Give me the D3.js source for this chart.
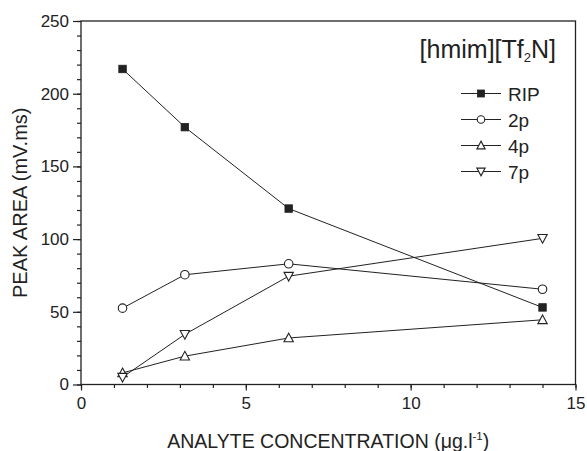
<!DOCTYPE html>
<html><head><meta charset="utf-8">
<script src="https://cdn.jsdelivr.net/npm/d3@7"></script>
<style>body{margin:0;background:#fff}svg{display:block;font-family:"Liberation Sans",Arial,sans-serif}</style>
</head><body><svg id="c" width="587" height="451"></svg>
<script>
const concentrations = [1.26, 3.15, 6.3, 14.0];
const ripValues = [217, 177, 121, 53];
const p2Values = [52.5, 75.5, 83, 65.5];
const p4Values = [8, 19.5, 32, 44.5];
const p7Values = [5, 34.5, 74.5, 100.5];
const seriesNames = ["RIP", "2p", "4p", "7p"];
const xTicks = [0, 5, 10, 15];
const yTicks = [0, 50, 100, 150, 200, 250];

const series = [
  {name: seriesNames[0], values: ripValues, sym: "square"},
  {name: seriesNames[1], values: p2Values, sym: "circle"},
  {name: seriesNames[2], values: p4Values, sym: "up"},
  {name: seriesNames[3], values: p7Values, sym: "down"}
];

const ink = "#222";
const svg = d3.select("#c");
const L = 81, R = 575.5, T = 21, B = 384.5;
const x = d3.scaleLinear().domain([0, 15]).range([L, R]);
const y = d3.scaleLinear().domain([0, 250]).range([B, T]);

// frame
svg.append("rect").attr("x", L).attr("y", T).attr("width", R - L).attr("height", B - T)
  .attr("fill", "none").attr("stroke", ink).attr("stroke-width", 1.3);

// y axis
const yAx = svg.append("g").attr("transform", `translate(${L},0)`);
yAx.call(d3.axisLeft(y).tickValues(d3.range(0, 251, 10)).tickSize(4).tickFormat(""));
yAx.call(g => g.select(".domain").remove());
const yAx2 = svg.append("g").attr("transform", `translate(${L},0)`);
yAx2.call(d3.axisLeft(y).tickValues(yTicks).tickSize(8).tickPadding(4).tickFormat(d3.format("d")));
yAx2.select(".domain").remove();
[yAx, yAx2].forEach(g => { g.selectAll("line").attr("stroke", ink).attr("stroke-width", 1.2); });
yAx2.selectAll("text").attr("font-size", 17).attr("fill", ink).attr("font-family", "Liberation Sans, Arial, sans-serif");

// x axis
const xAx = svg.append("g").attr("transform", `translate(0,${B})`);
xAx.call(d3.axisBottom(x).tickValues(d3.range(0, 16, 1)).tickSize(3.5).tickFormat(""));
xAx.select(".domain").remove();
const xAx2 = svg.append("g").attr("transform", `translate(0,${B})`);
xAx2.call(d3.axisBottom(x).tickValues(xTicks).tickSize(6).tickPadding(6).tickFormat(d3.format("d")));
xAx2.select(".domain").remove();
[xAx, xAx2].forEach(g => { g.selectAll("line").attr("stroke", ink).attr("stroke-width", 1.2); });
xAx2.selectAll("text").attr("font-size", 17).attr("fill", ink).attr("font-family", "Liberation Sans, Arial, sans-serif");

// axis titles
const xt = svg.append("text").attr("x", (L + R) / 2).attr("y", 448).attr("text-anchor", "middle")
  .attr("font-size", 19.5).attr("fill", ink);
xt.append("tspan").text("ANALYTE CONCENTRATION (μg.l");
xt.append("tspan").attr("font-size", 11.5).attr("dy", -8).text("-1");
xt.append("tspan").attr("dy", 8).text(")");

svg.append("text").attr("transform", `translate(27,${(T + B) / 2}) rotate(-90)`)
  .attr("text-anchor", "middle").attr("font-size", 20).attr("fill", ink).text("PEAK AREA (mV.ms)");

// symbols
function drawSym(g, type, cx, cy, s) {
  if (type === "square") {
    g.append("rect").attr("x", cx - s / 2).attr("y", cy - s / 2).attr("width", s).attr("height", s)
      .attr("fill", ink).attr("stroke", ink).attr("stroke-width", 0.8);
  } else if (type === "circle") {
    g.append("circle").attr("cx", cx).attr("cy", cy).attr("r", s / 2)
      .attr("fill", "#fff").attr("stroke", ink).attr("stroke-width", 1.1);
  } else {
    const h = s * 0.9, w = s * 1.1;
    const pts = type === "up"
      ? [[cx, cy - h / 2 - 1], [cx + w / 2, cy + h / 2], [cx - w / 2, cy + h / 2]]
      : [[cx, cy + h / 2 + 1], [cx + w / 2, cy - h / 2], [cx - w / 2, cy - h / 2]];
    g.append("polygon").attr("points", pts.map(p => p.join(",")).join(" "))
      .attr("fill", "#fff").attr("stroke", ink).attr("stroke-width", 1.1);
  }
}

const line = d3.line().x((d, i) => x(concentrations[i])).y(d => y(d));
series.forEach(s => {
  svg.append("path").attr("d", line(s.values)).attr("fill", "none").attr("stroke", ink).attr("stroke-width", 1);
});
series.forEach(s => {
  const g = svg.append("g");
  s.values.forEach((v, i) => drawSym(g, s.sym, x(concentrations[i]), y(v), s.sym === "square" ? 7.5 : 8.5));
});

// title
const tt = svg.append("text").attr("x", 556).attr("y", 58).attr("text-anchor", "end")
  .attr("font-size", 25).attr("fill", ink);
tt.append("tspan").text("[hmim][Tf");
tt.append("tspan").attr("font-size", 13).attr("dy", 4).text("2");
tt.append("tspan").attr("dy", -4).text("N]");

// legend
const ly = [93.5, 119.5, 145.5, 171.5];
series.forEach((s, i) => {
  const g = svg.append("g");
  g.append("line").attr("x1", 461).attr("x2", 501).attr("y1", ly[i]).attr("y2", ly[i])
    .attr("stroke", ink).attr("stroke-width", 1);
  drawSym(g, s.sym, 481, ly[i], s.sym === "square" ? 7 : 7.5);
  g.append("text").attr("x", 508).attr("y", ly[i] + 7).attr("font-size", 19).attr("fill", ink).text(s.name);
});
</script></body></html>
